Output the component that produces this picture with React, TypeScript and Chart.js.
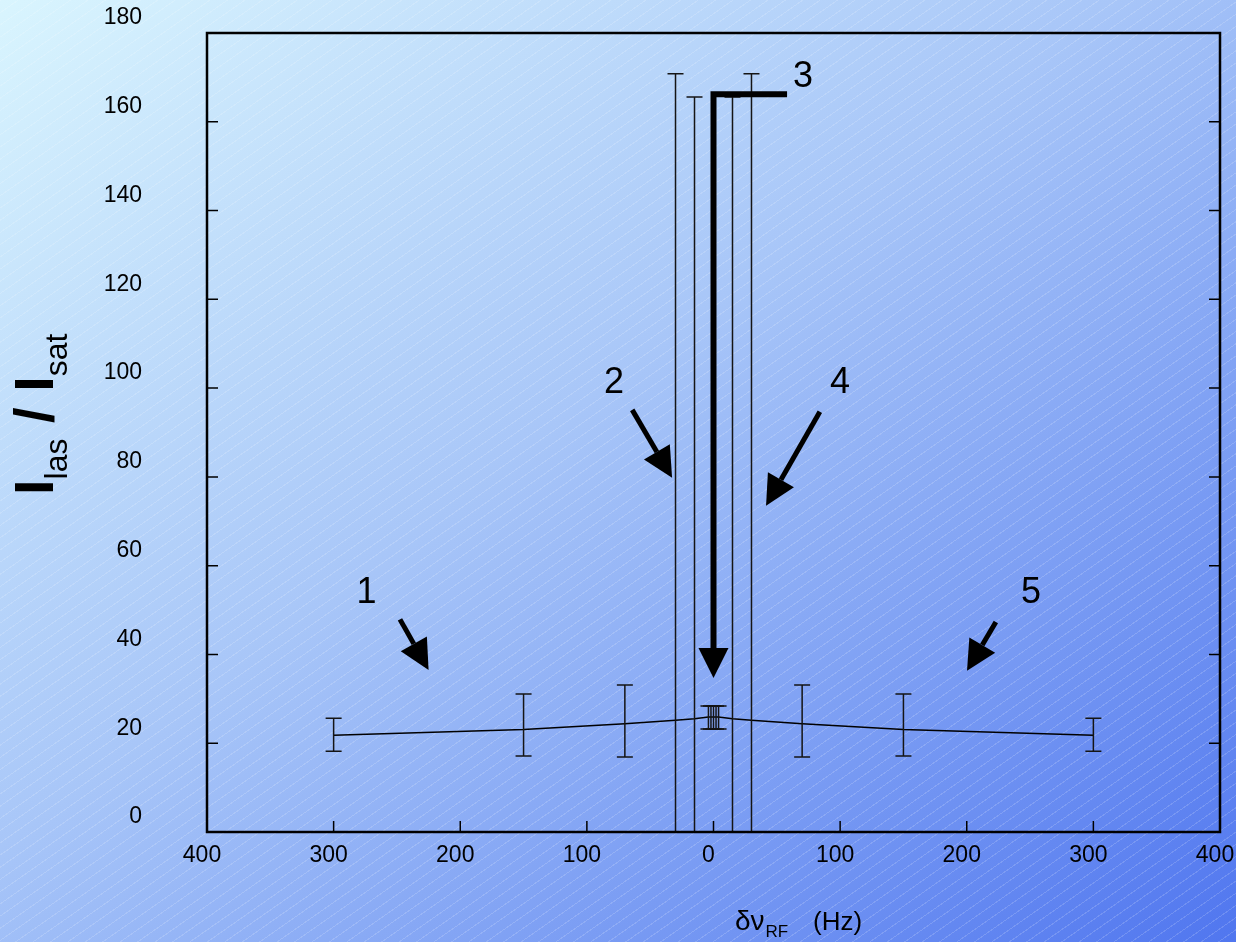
import React, { useEffect, useRef } from "react";
import { Chart, registerables } from "chart.js";

Chart.register(...registerables);

// ---- data ----
const xValues = [-300, -150, -70, -30, -15, -4, -2, 0, 2, 4, 15, 30, 70, 150, 300];
const yValues = [21.8, 23.1, 24.4, 25.2, 25.5, 25.9, 25.9, 25.9, 25.9, 25.9, 25.5, 25.2, 24.4, 23.1, 21.8];
const yLow = [18.2, 17.1, 16.9, 0, 0, 23.2, 23.2, 23.2, 23.2, 23.2, 0, 0, 16.9, 17.1, 18.2];
const yHigh = [25.6, 31.1, 33.1, 170.8, 165.6, 28.4, 28.4, 28.4, 28.4, 28.4, 165.6, 170.8, 33.1, 31.1, 25.6];

const xTicks = [-400, -300, -200, -100, 0, 100, 200, 300, 400];
const yTicks = [0, 20, 40, 60, 80, 100, 120, 140, 160, 180];

// annotation labels (data coordinates)
const noteText = ["1", "2", "3", "4", "5"];
const noteX = [-274, -78.5, 70.7, 99.9, 250.7];
const noteY = [53.8, 101.2, 170.0, 101.2, 53.8];

// arrows (data coordinates): start -> tip
const arrowStartX = [-247.6, -64.2, 84.0, 223.0];
const arrowStartY = [47.9, 95.1, 94.7, 47.3];
const arrowTipX = [-225.0, -32.7, 41.5, 200.2];
const arrowTipY = [36.5, 79.8, 73.5, 36.3];

// bracket arrow "3" (data coordinates polyline)
const bracketX = [58.1, 0, 0];
const bracketY = [166.2, 166.2, 34.7];

const FONT = "'Liberation Sans', Arial, Helvetica, sans-serif";

function drawArrowHead(ctx: CanvasRenderingContext2D, fx: number, fy: number, tx: number, ty: number, len: number, half: number) {
  const dx = tx - fx;
  const dy = ty - fy;
  const d = Math.hypot(dx, dy);
  const ux = dx / d;
  const uy = dy / d;
  const bx = tx - ux * len;
  const by = ty - uy * len;
  ctx.beginPath();
  ctx.moveTo(tx, ty);
  ctx.lineTo(bx - uy * half, by + ux * half);
  ctx.lineTo(bx + uy * half, by - ux * half);
  ctx.closePath();
  ctx.fill();
  return [bx, by];
}

const overlayPlugin = {
  id: "overlay",
  afterDatasetsDraw(chart: any) {
    const ctx: CanvasRenderingContext2D = chart.ctx;
    const xs = chart.scales.x;
    const ys = chart.scales.y;
    const area = chart.chartArea;
    ctx.save();

    // error bars
    ctx.strokeStyle = "#151515";
    ctx.lineWidth = 1.5;
    const cap = 8;
    for (let i = 0; i < xValues.length; i++) {
      const px = xs.getPixelForValue(xValues[i]);
      const pl = ys.getPixelForValue(yLow[i]);
      const ph = ys.getPixelForValue(yHigh[i]);
      ctx.beginPath();
      ctx.moveTo(px, pl);
      ctx.lineTo(px, ph);
      ctx.moveTo(px - cap, pl);
      ctx.lineTo(px + cap, pl);
      ctx.moveTo(px - cap, ph);
      ctx.lineTo(px + cap, ph);
      ctx.stroke();
    }

    // inward tick marks
    ctx.strokeStyle = "#000";
    ctx.lineWidth = 1.5;
    const tl = 11;
    ctx.beginPath();
    for (const v of yTicks) {
      if (v === 0 || v === 180) continue;
      const py = ys.getPixelForValue(v);
      ctx.moveTo(area.left, py);
      ctx.lineTo(area.left + tl, py);
      ctx.moveTo(area.right, py);
      ctx.lineTo(area.right - tl, py);
    }
    for (const v of xTicks) {
      if (v === -400 || v === 400) continue;
      const px = xs.getPixelForValue(v);
      ctx.moveTo(px, area.bottom);
      ctx.lineTo(px, area.bottom - tl);
    }
    ctx.stroke();

    // frame
    ctx.lineWidth = 2.5;
    ctx.strokeRect(area.left, area.top, area.right - area.left, area.bottom - area.top);

    // arrows
    ctx.fillStyle = "#000";
    ctx.strokeStyle = "#000";
    ctx.lineCap = "butt";
    for (let i = 0; i < arrowStartX.length; i++) {
      const sx = xs.getPixelForValue(arrowStartX[i]);
      const sy = ys.getPixelForValue(arrowStartY[i]);
      const tx = xs.getPixelForValue(arrowTipX[i]);
      const ty = ys.getPixelForValue(arrowTipY[i]);
      const [bx, by] = drawArrowHead(ctx, sx, sy, tx, ty, 30, 15);
      ctx.lineWidth = 5;
      ctx.beginPath();
      ctx.moveTo(sx, sy);
      ctx.lineTo(bx, by);
      ctx.stroke();
    }

    // bracket arrow 3
    const bp = bracketX.map((v, i) => [xs.getPixelForValue(v), ys.getPixelForValue(bracketY[i])]);
    const n = bp.length;
    const [bbx, bby] = drawArrowHead(ctx, bp[n - 2][0], bp[n - 2][1], bp[n - 1][0], bp[n - 1][1], 30, 15);
    ctx.lineWidth = 6;
    ctx.lineJoin = "miter";
    ctx.beginPath();
    ctx.moveTo(bp[0][0], bp[0][1]);
    for (let i = 1; i < n - 1; i++) ctx.lineTo(bp[i][0], bp[i][1]);
    ctx.lineTo(bbx, bby);
    ctx.stroke();

    // note labels
    ctx.font = `36px ${FONT}`;
    ctx.textAlign = "center";
    ctx.textBaseline = "middle";
    for (let i = 0; i < noteText.length; i++) {
      ctx.fillText(noteText[i], xs.getPixelForValue(noteX[i]), ys.getPixelForValue(noteY[i]));
    }

    // y-axis title (rotated)
    ctx.save();
    ctx.translate(53, 495);
    ctx.rotate(-Math.PI / 2);
    ctx.textAlign = "left";
    ctx.textBaseline = "alphabetic";
    let cx = 0;
    const piece = (t: string, font: string, dy: number) => {
      ctx.font = font;
      ctx.fillText(t, cx, dy);
      cx += ctx.measureText(t).width;
    };
    const big = `bold 56px ${FONT}`;
    const sub = `32px ${FONT}`;
    piece("I", big, 0);
    piece("las", sub, 14);
    piece(" / ", big, 0);
    piece("I", big, 0);
    piece("sat", sub, 14);
    ctx.restore();

    // x-axis title
    ctx.textAlign = "left";
    ctx.textBaseline = "alphabetic";
    let tx = 735;
    ctx.font = `28px ${FONT}`;
    ctx.fillText("δν", tx, 930);
    tx += ctx.measureText("δν").width + 1;
    ctx.font = `17px ${FONT}`;
    ctx.fillText("RF", tx, 937);
    ctx.font = `26px ${FONT}`;
    ctx.fillText("(Hz)", 813, 930);

    ctx.restore();
  },
};

export default function App() {
  const ref = useRef<HTMLCanvasElement | null>(null);

  useEffect(() => {
    document.body.style.margin = "0";
    const canvas = ref.current;
    if (!canvas) return;
    const chart = new Chart(canvas, {
      type: "line",
      data: {
        datasets: [
          {
            data: xValues.map((x, i) => ({ x, y: yValues[i] })),
            borderColor: "#000",
            borderWidth: 1.5,
            pointRadius: 0,
            fill: false,
            tension: 0,
          },
        ],
      },
      options: {
        responsive: false,
        animation: false,
        devicePixelRatio: 1,
        layout: { padding: { top: 33, right: 16, left: 0, bottom: 0 } },
        plugins: {
          legend: { display: false },
          tooltip: { enabled: false },
        },
        scales: {
          x: {
            type: "linear",
            min: -400,
            max: 400,
            afterBuildTicks: (s: any) => {
              s.ticks = xTicks.map((v) => ({ value: v }));
            },
            afterFit: (s: any) => {
              s.height = 110;
              s.paddingLeft = 0;
              s.paddingRight = 0;
            },
            grid: { display: false, drawTicks: false },
            border: { display: false },
            ticks: {
              callback: (v: any) => String(Math.abs(Number(v))),
              font: { family: FONT, size: 23 },
              color: "#000",
              padding: 10,
              labelOffset: -5,
              maxRotation: 0,
              autoSkip: false,
            },
          },
          y: {
            type: "linear",
            min: 0,
            max: 180,
            afterBuildTicks: (s: any) => {
              s.ticks = yTicks.map((v) => ({ value: v }));
            },
            afterFit: (s: any) => {
              s.width = 207;
              s.paddingTop = 0;
              s.paddingBottom = 0;
            },
            grid: { display: false, drawTicks: false },
            border: { display: false },
            ticks: {
              font: { family: FONT, size: 23 },
              color: "#000",
              padding: 65,
              labelOffset: -15,
              autoSkip: false,
            },
          },
        },
      },
      plugins: [overlayPlugin],
    } as any);
    return () => chart.destroy();
  }, []);

  return (
    <div
      style={{
        width: 1236,
        height: 942,
        position: "relative",
        overflow: "hidden",
        backgroundImage:
          "repeating-linear-gradient(145deg, rgba(255,255,255,0.16) 0px, rgba(255,255,255,0.16) 1px, rgba(255,255,255,0) 1px, rgba(255,255,255,0) 10px), linear-gradient(to bottom right, #d9f5fe 0%, #a8c6f8 45%, #5076ef 100%)",
      }}
    >
      <canvas ref={ref} width={1236} height={942} style={{ display: "block" }} />
    </div>
  );
}
